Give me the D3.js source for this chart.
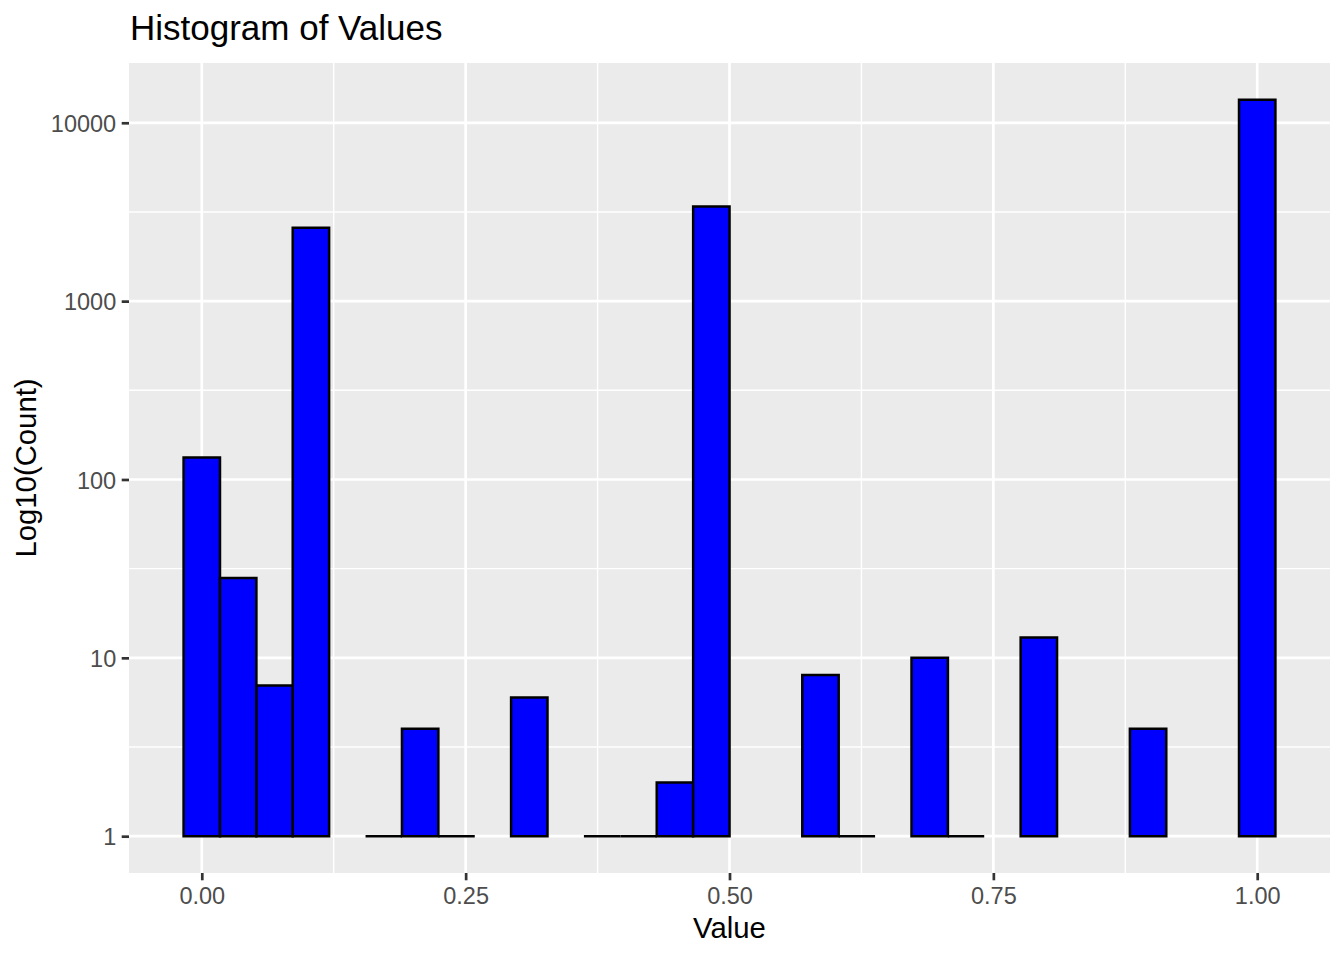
<!DOCTYPE html>
<html>
<head>
<meta charset="utf-8">
<script src="https://cdn.jsdelivr.net/npm/d3@7"></script>
<style>
  html, body { margin: 0; padding: 0; background: #fff; }
  svg { display: block; font-family: "Liberation Sans", Arial, Helvetica, sans-serif; }
</style>
</head>
<body>
<svg id="chart" width="1344" height="960"></svg>
<script>
// ---- data ----
const binCenters = [0.0000, 0.0345, 0.0690, 0.1034, 0.1379, 0.1724, 0.2069, 0.2414, 0.2759, 0.3103,
                    0.3448, 0.3793, 0.4138, 0.4483, 0.4828, 0.5172, 0.5517, 0.5862, 0.6207, 0.6552,
                    0.6897, 0.7241, 0.7586, 0.7931, 0.8276, 0.8621, 0.8966, 0.9310, 0.9655, 1.0000];
const binWidth = 0.03448;
const counts = [133, 28, 7, 2580, 0, 1, 4, 1, 0, 6,
                0, 1, 1, 2, 3390, 0, 0, 8, 1, 0,
                10, 1, 0, 13, 0, 0, 4, 0, 0, 13450];
const xTicks = [0, 0.25, 0.5, 0.75, 1];
const xTickLabels = ["0.00", "0.25", "0.50", "0.75", "1.00"];
const xMinor = [0.125, 0.375, 0.625, 0.875];
const yTicks = [1, 10, 100, 1000, 10000];
const yTickLabels = ["1", "10", "100", "1000", "10000"];
const yMinorExp = [0.5, 1.5, 2.5, 3.5];
const titleText = "Histogram of Values";
const xTitle = "Value";
const yTitle = "Log10(Count)";

// ---- layout ----
const P = { left: 129, right: 1330, top: 63, bottom: 873 };
const svg = d3.select("#chart");

const xMinData = binCenters[0] - binWidth / 2, xMaxData = binCenters[binCenters.length - 1] + binWidth / 2;
const xPad = (xMaxData - xMinData) * 0.05;
const x = d3.scaleLinear().domain([xMinData - xPad, xMaxData + xPad]).range([P.left, P.right]);

const lmax = Math.log10(d3.max(counts));
const lpad = lmax * 0.05;
const y = d3.scaleLog().domain([Math.pow(10, -lpad), Math.pow(10, lmax + lpad)]).range([P.bottom, P.top]);

// panel
svg.append("rect").attr("x", P.left).attr("y", P.top)
  .attr("width", P.right - P.left).attr("height", P.bottom - P.top).attr("fill", "#EBEBEB");

const grid = svg.append("g");
// minor grid
yMinorExp.forEach(e => {
  const yy = y(Math.pow(10, e));
  grid.append("line").attr("x1", P.left).attr("x2", P.right).attr("y1", yy).attr("y2", yy)
    .attr("stroke", "#fff").attr("stroke-width", 1.4);
});
xMinor.forEach(v => {
  const xx = x(v);
  grid.append("line").attr("x1", xx).attr("x2", xx).attr("y1", P.top).attr("y2", P.bottom)
    .attr("stroke", "#fff").attr("stroke-width", 1.4);
});
// major grid
yTicks.forEach(t => {
  const yy = y(t);
  grid.append("line").attr("x1", P.left).attr("x2", P.right).attr("y1", yy).attr("y2", yy)
    .attr("stroke", "#fff").attr("stroke-width", 2.7);
});
xTicks.forEach(t => {
  const xx = x(t);
  grid.append("line").attr("x1", xx).attr("x2", xx).attr("y1", P.top).attr("y2", P.bottom)
    .attr("stroke", "#fff").attr("stroke-width", 2.7);
});

// bars
const bins = binCenters.map((c, i) => ({ x0: c - binWidth / 2, x1: c + binWidth / 2, n: counts[i] }))
  .filter(d => d.n > 0);
svg.append("g").selectAll("path").data(bins).join("path")
  .attr("d", d => {
    const x0 = x(d.x0), x1 = x(d.x1), y0 = y(1), y1 = y(d.n);
    return `M${x0},${y0}L${x0},${y1}L${x1},${y1}L${x1},${y0}Z`;
  })
  .attr("fill", "#0000FF").attr("stroke", "#000").attr("stroke-width", 2.5)
  .attr("stroke-linejoin", "miter");

// axes
const xAxis = svg.append("g").attr("transform", `translate(0,${P.bottom})`)
  .call(d3.axisBottom(x).tickValues(xTicks).tickFormat((d, i) => xTickLabels[i]).tickSize(7.3).tickPadding(7.5));
const yAxis = svg.append("g").attr("transform", `translate(${P.left},0)`)
  .call(d3.axisLeft(y).tickValues(yTicks).tickFormat((d, i) => yTickLabels[i]).tickSize(7.3).tickPadding(5.5));
[xAxis, yAxis].forEach(a => {
  a.select(".domain").remove();
  a.selectAll(".tick line").attr("stroke", "#333333").attr("stroke-width", 2.7);
  a.selectAll(".tick text").attr("fill", "#4D4D4D").style("font-size", "23.5px")
    .style("font-family", '"Liberation Sans", Arial, sans-serif');
});
yAxis.selectAll(".tick text").attr("dy", "0.37em");

// titles
svg.append("text").attr("x", 130).attr("y", 40).attr("fill", "#000")
  .style("font-size", "35px").text(titleText);
svg.append("text").attr("x", (P.left + P.right) / 2).attr("y", 938).attr("text-anchor", "middle")
  .attr("fill", "#000").style("font-size", "29.3px").text(xTitle);
svg.append("text").attr("transform", `translate(36,${(P.top + P.bottom) / 2}) rotate(-90)`)
  .attr("text-anchor", "middle").attr("fill", "#000").style("font-size", "29.3px").text(yTitle);
</script>
</body>
</html>
